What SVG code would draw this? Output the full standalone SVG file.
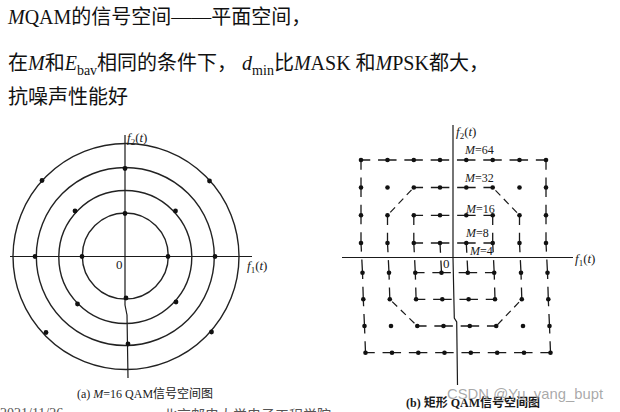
<svg xmlns="http://www.w3.org/2000/svg" width="620" height="412" viewBox="0 0 620 412">
<style>
.bg{fill:#ffffff}
.tt{font-family:"Liberation Serif","Noto Sans CJK SC",serif;font-size:20px;fill:#111}
.it{font-style:italic}
.sub{font-size:14px}
.lab{font-family:"Liberation Serif","Noto Sans CJK SC",serif;font-size:13px;fill:#1a1a1a}
.ml{font-family:"Liberation Serif","Noto Sans CJK SC",serif;font-size:12px;fill:#1a1a1a}
.cap{font-family:"Liberation Serif","Noto Sans CJK SC",serif;font-size:12px;fill:#1a1a1a}
.ax{stroke:#1a1a1a;stroke-width:1.2;fill:none}
.ring{stroke:#222;stroke-width:1.4;fill:none}
.dot{fill:#111}
.h{stroke:#1a1a1a;stroke-width:1.3;fill:none;stroke-dasharray:18.5 7.8;stroke-dashoffset:9.25}
.v{stroke:#1a1a1a;stroke-width:1.3;fill:none;stroke-dasharray:19.5 7.8;stroke-dashoffset:9.75}
.d{stroke:#1a1a1a;stroke-width:1.2;fill:none;stroke-dasharray:7 5;stroke-dashoffset:-4}
.wm{font-family:"Liberation Sans","DejaVu Sans",sans-serif;font-size:15px;fill:#9a9a9a;fill-opacity:0.85}
.foot{font-family:"Liberation Serif","Noto Sans CJK SC",serif;font-size:14px;fill:#555}
</style>
<rect class="bg" x="0" y="0" width="620" height="412"/>

<g id="title">
<text class="tt" x="8" y="24"><tspan class="it">M</tspan>QAM的信号空间——平面空间，</text>
<text class="tt" x="8" y="70"><tspan>在</tspan><tspan class="it">M</tspan><tspan>和</tspan><tspan class="it">E</tspan><tspan class="sub" y="75">bav</tspan><tspan y="70">相同的条件下， </tspan><tspan class="it">d</tspan><tspan class="sub" y="75">min</tspan><tspan y="70">比</tspan><tspan class="it">M</tspan><tspan>ASK 和</tspan><tspan class="it">M</tspan><tspan>PSK都大，</tspan></text>
<text class="tt" x="8" y="104">抗噪声性能好</text>
</g>

<g id="fig-a">
<g id="a-axes">
<line class="ax" x1="10" y1="256.5" x2="252" y2="256.5"/>
<polyline class="ax" points="125,135 125,305 127,315 128,378"/>
</g>
<g id="a-rings">
<circle class="ring" cx="125.3" cy="256" r="43"/>
<circle class="ring" cx="125.3" cy="257" r="66.5"/>
<circle class="ring" cx="125.3" cy="256.5" r="89"/>
<circle class="ring" cx="126" cy="256.5" r="113"/>
</g>
<g id="a-points">
<circle class="dot" cx="125" cy="213.5" r="2.4"/>
<circle class="dot" cx="126" cy="298" r="2.4"/>
<circle class="dot" cx="82" cy="256.5" r="2.4"/>
<circle class="dot" cx="168" cy="256.5" r="2.4"/>
<circle class="dot" cx="75" cy="211" r="2.4"/>
<circle class="dot" cx="175.5" cy="211" r="2.4"/>
<circle class="dot" cx="77.5" cy="304" r="2.4"/>
<circle class="dot" cx="176" cy="302" r="2.4"/>
<circle class="dot" cx="125" cy="168.5" r="2.4"/>
<circle class="dot" cx="128" cy="344" r="2.4"/>
<circle class="dot" cx="35" cy="256.5" r="2.4"/>
<circle class="dot" cx="215" cy="256.5" r="2.4"/>
<circle class="dot" cx="42" cy="180.5" r="2.4"/>
<circle class="dot" cx="209.5" cy="181" r="2.4"/>
<circle class="dot" cx="46" cy="332.5" r="2.4"/>
<circle class="dot" cx="211.5" cy="332" r="2.4"/>
</g>
<g id="a-labels">
<text class="lab" x="127" y="142"><tspan class="it">f</tspan><tspan font-size="9" y="145">2</tspan><tspan y="142">(</tspan><tspan class="it">t</tspan><tspan>)</tspan></text>
<text class="lab" x="247" y="270"><tspan class="it">f</tspan><tspan font-size="9" y="273">1</tspan><tspan y="270">(</tspan><tspan class="it">t</tspan><tspan>)</tspan></text>
<text class="lab" x="116" y="269">0</text>
<text class="cap" x="77" y="398">(a) <tspan class="it">M</tspan>=16 QAM信号空间图</text>
</g>
</g>

<g id="fig-b">
<g id="b-axes">
<line class="ax" x1="342" y1="257.5" x2="573" y2="257.5"/>
<polyline class="ax" points="453,125 453,258 454.3,318 456.7,322 457.5,385"/>
</g>
<g id="connectors">
<g id="m64">
<path class="h" d="M361,160 H546"/>
<path class="v" d="M361,160 L361,243 L362.5,272.7 L363.3,299.3 L364.5,326 L365.5,352.7"/>
<path class="v" d="M546,160 L546,243 L547.5,272.7 L548.3,299.3 L549.5,326 L550.5,352.7"/>
<path class="h" d="M365.5,352.7 H550.5"/>
</g>
<g id="m32">
<path class="h" d="M413.8,187.5 H492.7"/>
<path class="d" d="M492.7,187.5 L519.5,215.3"/>
<path class="v" d="M519.5,215.3 L519.5,243 L521,272.7 L521.8,299.3"/>
<path class="d" d="M521.8,299.3 L496.2,326"/>
<path class="h" d="M417.3,326 H496.2"/>
<path class="d" d="M417.3,326 L389.8,299.3"/>
<path class="v" d="M387.5,215.3 L387.5,243 L389,272.7 L389.8,299.3"/>
<path class="d" d="M387.5,215.3 L413.8,187.5"/>
</g>
<g id="m16">
<path class="h" d="M413.8,215.3 H492.7"/>
<path class="v" d="M413.8,215.3 L413.8,243 L415.3,272.7 L416.1,299.3"/>
<path class="v" d="M492.7,215.3 L492.7,243 L494.2,272.7 L495,299.3"/>
<path class="h" d="M416.1,299.3 H495"/>
</g>
<g id="m8">
<path class="h" d="M413.8,243 H492.7"/>
<path class="h" d="M415.3,272.7 H494.2"/>
</g>
<g id="m4">
<path class="v" d="M440,243 L441.5,272.7"/>
<path class="v" d="M466.3,243 L467.8,272.7"/>
</g>
</g>
<g id="b-points">
<g id="row1">
<circle class="dot" cx="361" cy="160" r="2.3"/><circle class="dot" cx="387.5" cy="160" r="2.3"/><circle class="dot" cx="413.8" cy="160" r="2.3"/><circle class="dot" cx="440" cy="160" r="2.3"/><circle class="dot" cx="466.3" cy="160" r="2.3"/><circle class="dot" cx="492.7" cy="160" r="2.3"/><circle class="dot" cx="519.5" cy="160" r="2.3"/><circle class="dot" cx="546" cy="160" r="2.3"/>
</g>
<g id="row2">
<circle class="dot" cx="361" cy="187.5" r="2.3"/><circle class="dot" cx="387.5" cy="187.5" r="2.3"/><circle class="dot" cx="413.8" cy="187.5" r="2.3"/><circle class="dot" cx="440" cy="187.5" r="2.3"/><circle class="dot" cx="466.3" cy="187.5" r="2.3"/><circle class="dot" cx="492.7" cy="187.5" r="2.3"/><circle class="dot" cx="519.5" cy="187.5" r="2.3"/><circle class="dot" cx="546" cy="187.5" r="2.3"/>
</g>
<g id="row3">
<circle class="dot" cx="361" cy="215.3" r="2.3"/><circle class="dot" cx="387.5" cy="215.3" r="2.3"/><circle class="dot" cx="413.8" cy="215.3" r="2.3"/><circle class="dot" cx="440" cy="215.3" r="2.3"/><circle class="dot" cx="466.3" cy="215.3" r="2.3"/><circle class="dot" cx="492.7" cy="215.3" r="2.3"/><circle class="dot" cx="519.5" cy="215.3" r="2.3"/><circle class="dot" cx="546" cy="215.3" r="2.3"/>
</g>
<g id="row4">
<circle class="dot" cx="361" cy="243" r="2.3"/><circle class="dot" cx="387.5" cy="243" r="2.3"/><circle class="dot" cx="413.8" cy="243" r="2.3"/><circle class="dot" cx="440" cy="243" r="2.3"/><circle class="dot" cx="466.3" cy="243" r="2.3"/><circle class="dot" cx="492.7" cy="243" r="2.3"/><circle class="dot" cx="519.5" cy="243" r="2.3"/><circle class="dot" cx="546" cy="243" r="2.3"/>
</g>
<g id="row5">
<circle class="dot" cx="362.5" cy="272.7" r="2.3"/><circle class="dot" cx="389" cy="272.7" r="2.3"/><circle class="dot" cx="415.3" cy="272.7" r="2.3"/><circle class="dot" cx="441.5" cy="272.7" r="2.3"/><circle class="dot" cx="467.8" cy="272.7" r="2.3"/><circle class="dot" cx="494.2" cy="272.7" r="2.3"/><circle class="dot" cx="521" cy="272.7" r="2.3"/><circle class="dot" cx="547.5" cy="272.7" r="2.3"/>
</g>
<g id="row6">
<circle class="dot" cx="363.3" cy="299.3" r="2.3"/><circle class="dot" cx="389.8" cy="299.3" r="2.3"/><circle class="dot" cx="416.1" cy="299.3" r="2.3"/><circle class="dot" cx="442.3" cy="299.3" r="2.3"/><circle class="dot" cx="468.6" cy="299.3" r="2.3"/><circle class="dot" cx="495" cy="299.3" r="2.3"/><circle class="dot" cx="521.8" cy="299.3" r="2.3"/><circle class="dot" cx="548.3" cy="299.3" r="2.3"/>
</g>
<g id="row7">
<circle class="dot" cx="364.5" cy="326" r="2.3"/><circle class="dot" cx="391" cy="326" r="2.3"/><circle class="dot" cx="417.3" cy="326" r="2.3"/><circle class="dot" cx="443.5" cy="326" r="2.3"/><circle class="dot" cx="469.8" cy="326" r="2.3"/><circle class="dot" cx="496.2" cy="326" r="2.3"/><circle class="dot" cx="523" cy="326" r="2.3"/><circle class="dot" cx="549.5" cy="326" r="2.3"/>
</g>
<g id="row8">
<circle class="dot" cx="365.5" cy="352.7" r="2.3"/><circle class="dot" cx="392" cy="352.7" r="2.3"/><circle class="dot" cx="418.3" cy="352.7" r="2.3"/><circle class="dot" cx="444.5" cy="352.7" r="2.3"/><circle class="dot" cx="470.8" cy="352.7" r="2.3"/><circle class="dot" cx="497.2" cy="352.7" r="2.3"/><circle class="dot" cx="524" cy="352.7" r="2.3"/><circle class="dot" cx="550.5" cy="352.7" r="2.3"/>
</g>
</g>
<g id="b-labels">
<text class="lab" x="456" y="136"><tspan class="it">f</tspan><tspan font-size="9" y="139">2</tspan><tspan y="136">(</tspan><tspan class="it">t</tspan><tspan>)</tspan></text>
<text class="lab" x="575" y="263"><tspan class="it">f</tspan><tspan font-size="9" y="266">1</tspan><tspan y="263">(</tspan><tspan class="it">t</tspan><tspan>)</tspan></text>
<text class="lab" x="443" y="268">0</text>
<text class="ml" x="465" y="154"><tspan class="it">M</tspan>=64</text>
<text class="ml" x="465" y="182"><tspan class="it">M</tspan>=32</text>
<text class="ml" x="466" y="213"><tspan class="it">M</tspan>=16</text>
<text class="ml" x="466" y="237"><tspan class="it">M</tspan>=8</text>
<text class="ml" x="470" y="255"><tspan class="it">M</tspan>=4</text>
<text class="cap" x="406" y="407" font-weight="bold">(b) 矩形 QAM信号空间图</text>
</g>
</g>

<g id="watermark">
<text class="wm" x="447" y="399" textLength="156" lengthAdjust="spacingAndGlyphs">CSDN @Yu_yang_bupt</text>
</g>
<g id="footer">
<text class="foot" x="0" y="418">2021/11/26</text>
<text class="foot" x="163" y="420">北京邮电大学电子工程学院</text>
</g>
</svg>
